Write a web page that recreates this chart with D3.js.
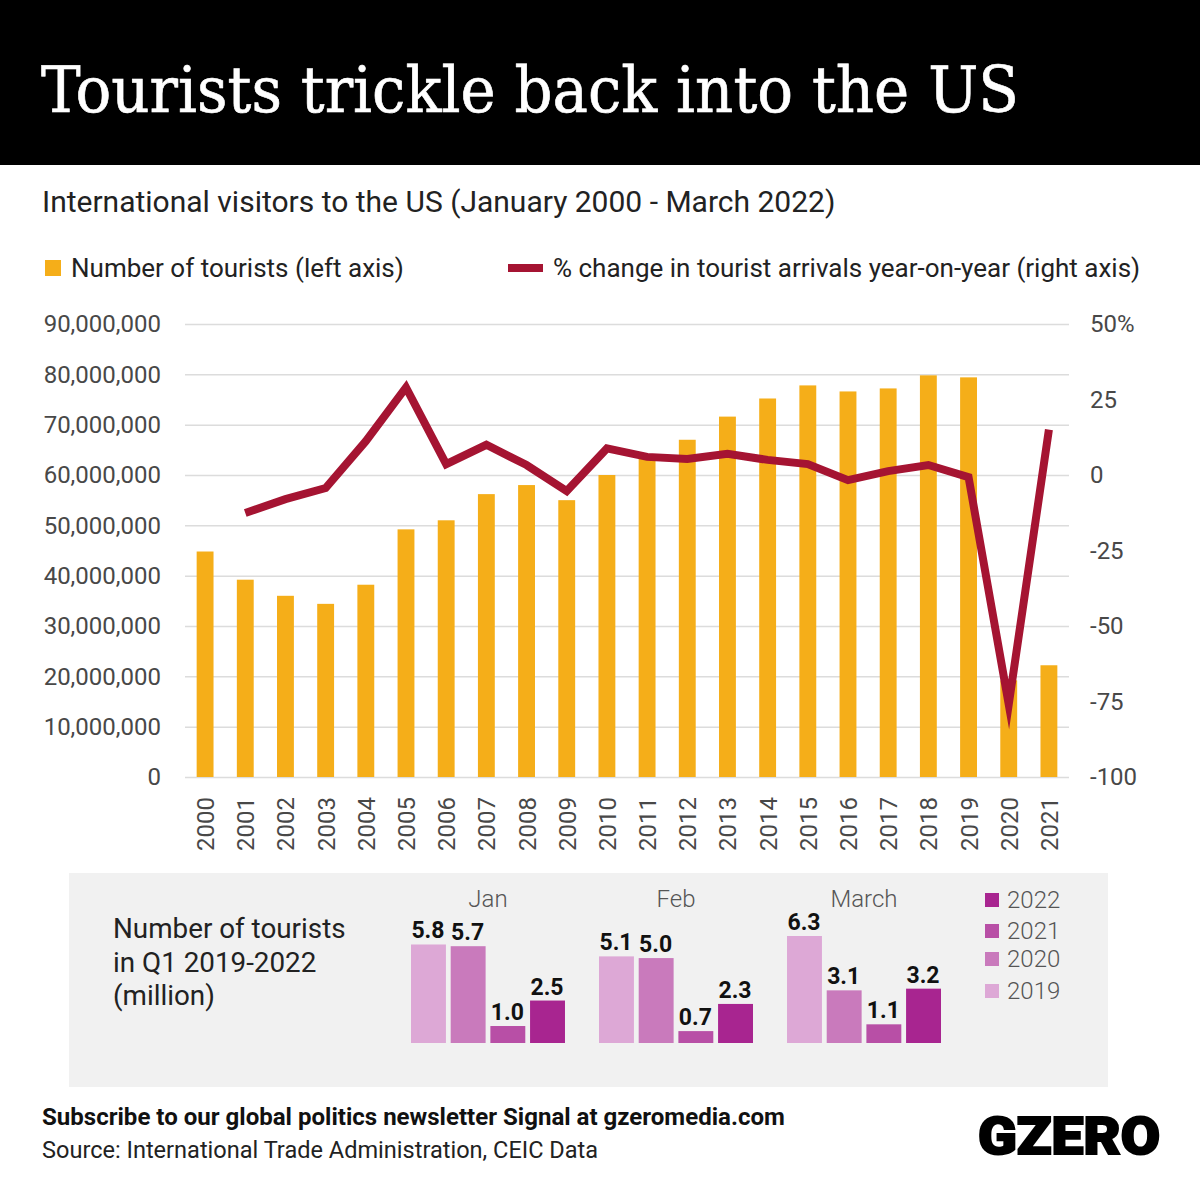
<!DOCTYPE html>
<html>
<head>
<meta charset="utf-8">
<script src="https://cdn.jsdelivr.net/npm/d3@7/dist/d3.min.js"></script>
<style>
html, body { margin: 0; padding: 0; background: #fff; }
svg { display: block; }
text { font-family: Roboto, sans-serif; }
</style>
</head>
<body>
<div id="chart"></div>
<script>
var years = ["2000","2001","2002","2003","2004","2005","2006","2007","2008","2009","2010","2011","2012","2013","2014","2015","2016","2017","2018","2019","2020","2021"];
var tourists = [44800000,39200000,36000000,34400000,38200000,49200000,51000000,56200000,58000000,55000000,60000000,63500000,67000000,71600000,75200000,77800000,76600000,77200000,79800000,79400000,19200000,22200000];
var change = [null,-12.6,-8,-4.3,11.2,29,3.6,10,3.3,-5.3,8.8,6,5.3,7,5,3.6,-1.7,1.3,3.3,-0.7,-76,15];
var leftTicks = [0,10000000,20000000,30000000,40000000,50000000,60000000,70000000,80000000,90000000];
var rightTicks = [-100,-75,-50,-25,0,25,50];

var months = ["Jan","Feb","March"];
var q1Years = ["2019","2020","2021","2022"];
var q1Values = [[5.8,5.7,1.0,2.5],[5.1,5.0,0.7,2.3],[6.3,3.1,1.1,3.2]];
var q1Colors = ["#dda8d6","#c97abc","#b84fa6","#a82590"];

var gold = "#f5ae19", wine = "#a51432", grey = "#484848";

var svg = d3.select("#chart").append("svg").attr("width", 1200).attr("height", 1200);

// header
svg.append("rect").attr("width", 1200).attr("height", 165).attr("fill", "#000");
svg.append("text").attr("x", 41).attr("y", 112).attr("fill", "#fff")
  .attr("stroke", "#fff").attr("stroke-width", 0.6)
  .style("font-family", "'DejaVu Serif Condensed', 'DejaVu Serif', serif").style("font-size", "64px")
  .attr("textLength", 978).attr("lengthAdjust", "spacingAndGlyphs")
  .text("Tourists trickle back into the US");
svg.append("text").attr("x", 42).attr("y", 212).attr("fill", "#222").style("font-size", "30px")
  .text("International visitors to the US (January 2000 - March 2022)");

// legend
svg.append("rect").attr("x", 45).attr("y", 260).attr("width", 16).attr("height", 16).attr("fill", gold);
svg.append("text").attr("x", 71).attr("y", 277).attr("fill", "#222").style("font-size", "26px").text("Number of tourists (left axis)");
svg.append("line").attr("x1", 508).attr("x2", 543).attr("y1", 268).attr("y2", 268).attr("stroke", wine).attr("stroke-width", 8);
svg.append("text").attr("x", 553).attr("y", 277).attr("fill", "#222").style("font-size", "26px").text("% change in tourist arrivals year-on-year (right axis)");

// main chart
var x = d3.scaleBand().domain(years).range([185, 1069]).paddingInner(0.58).paddingOuter(0.29);
var yLeft = d3.scaleLinear().domain([0, 90000000]).range([777, 324]);
var yRight = d3.scaleLinear().domain([-100, 50]).range([777, 324]);

var leftAxis = svg.append("g").attr("transform", "translate(185,0)")
  .call(d3.axisLeft(yLeft).tickValues(leftTicks).tickFormat(d3.format(",")).tickSize(-884).tickPadding(24));
var rightAxis = svg.append("g").attr("transform", "translate(1069,0)")
  .call(d3.axisRight(yRight).tickValues(rightTicks).tickSize(0).tickPadding(21)
    .tickFormat(function (d) { return d === 50 ? "50%" : d; }));
var bottomAxis = svg.append("g").attr("transform", "translate(0,777)")
  .call(d3.axisBottom(x).tickSize(0).tickPadding(0));

leftAxis.select(".domain").remove();
rightAxis.select(".domain").remove();
bottomAxis.select(".domain").remove();
leftAxis.selectAll(".tick line").attr("stroke", "#dcdcdc").attr("stroke-width", 1.5);
[leftAxis, rightAxis].forEach(function (a) {
  a.selectAll("text").attr("fill", grey).style("font-size", "24px").style("font-weight", 400);
});
bottomAxis.selectAll("text")
  .attr("fill", grey).style("font-size", "24px").style("font-weight", 400)
  .attr("text-anchor", "end").attr("dy", 0)
  .attr("transform", "translate(9,20) rotate(-90)")
  .attr("x", 0).attr("y", 0);

svg.append("g").selectAll("rect").data(years).join("rect")
  .attr("x", function (d) { return x(d); })
  .attr("width", x.bandwidth())
  .attr("y", function (d, i) { return yLeft(tourists[i]); })
  .attr("height", function (d, i) { return 777 - yLeft(tourists[i]); })
  .attr("fill", gold);

var line = d3.line()
  .defined(function (d) { return d != null; })
  .x(function (d, i) { return x(years[i]) + x.bandwidth() / 2; })
  .y(function (d) { return yRight(d); });
svg.append("path").datum(change).attr("d", line)
  .attr("fill", "none").attr("stroke", wine).attr("stroke-width", 8)
  .attr("stroke-linejoin", "miter").attr("stroke-miterlimit", 10);

// Q1 inset
svg.append("rect").attr("x", 69).attr("y", 873).attr("width", 1039).attr("height", 214).attr("fill", "#f1f1f1");
["Number of tourists", "in Q1 2019-2022", "(million)"].forEach(function (t, i) {
  svg.append("text").attr("x", 113).attr("y", 938 + i * 33.5).attr("fill", "#222").style("font-size", "27.8px").text(t);
});

var xMonth = d3.scaleBand().domain(months).range([411, 941]).paddingInner(0.181).paddingOuter(0);
var xYear = d3.scaleBand().domain(q1Years).range([0, xMonth.bandwidth()]).paddingInner(0.12);
var yQ1 = d3.scaleLinear().domain([0, 6.3]).range([1043, 936]);

var groups = svg.append("g").selectAll("g").data(months).join("g")
  .attr("transform", function (d) { return "translate(" + xMonth(d) + ",0)"; });
groups.append("text")
  .attr("x", xMonth.bandwidth() / 2).attr("y", 907).attr("text-anchor", "middle")
  .attr("fill", "#555").style("font-size", "24px").style("font-weight", 300)
  .text(function (d) { return d; });
groups.each(function (m, i) {
  var g = d3.select(this);
  var row = q1Values[i].map(function (v, j) { return { year: q1Years[j], value: v, color: q1Colors[j] }; });
  g.selectAll("rect").data(row).join("rect")
    .attr("x", function (d) { return xYear(d.year); })
    .attr("width", xYear.bandwidth())
    .attr("y", function (d) { return yQ1(d.value); })
    .attr("height", function (d) { return 1043 - yQ1(d.value); })
    .attr("fill", function (d) { return d.color; });
  g.selectAll(".val").data(row).join("text").attr("class", "val")
    .attr("x", function (d) { return xYear(d.year) + xYear.bandwidth() / 2 - 0.5; })
    .attr("y", function (d) { return yQ1(d.value) - 6; })
    .attr("text-anchor", "middle").attr("fill", "#111")
    .style("font-size", "23px").style("font-weight", 700)
    .text(function (d) { return d.value.toFixed(1); });
});

var legendYears = ["2022","2021","2020","2019"];
var legendY = d3.scaleOrdinal().domain(legendYears).range([900, 931, 959, 991]);
var legendItems = svg.append("g").selectAll("g").data(legendYears).join("g")
  .attr("transform", function (d) { return "translate(985," + legendY(d) + ")"; });
legendItems.append("rect").attr("x", 0).attr("y", -7).attr("width", 14).attr("height", 14)
  .attr("fill", function (d) { return q1Colors[q1Years.indexOf(d)]; });
legendItems.append("text").attr("x", 22).attr("y", 8).attr("fill", "#555")
  .style("font-size", "24px").style("font-weight", 300).text(function (d) { return d; });

// footer
svg.append("text").attr("x", 42).attr("y", 1125).attr("fill", "#111").style("font-size", "24.05px").style("font-weight", 700)
  .text("Subscribe to our global politics newsletter Signal at gzeromedia.com");
svg.append("text").attr("x", 42).attr("y", 1158).attr("fill", "#222").style("font-size", "23.55px")
  .text("Source: International Trade Administration, CEIC Data");
svg.append("text").attr("x", 978).attr("y", 1154).attr("fill", "#000")
  .attr("stroke", "#000").attr("stroke-width", 2)
  .style("font-size", "51px").style("font-weight", 900)
  .attr("textLength", 182).attr("lengthAdjust", "spacingAndGlyphs")
  .text("GZERO");
</script>
</body>
</html>
